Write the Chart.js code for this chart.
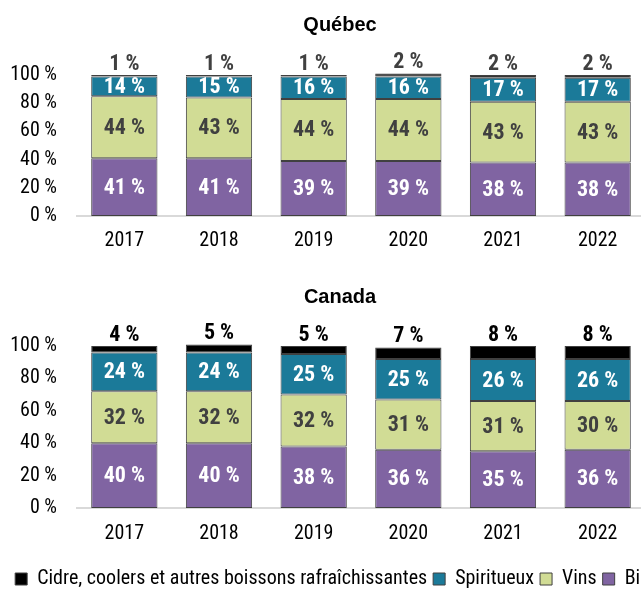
<!DOCTYPE html>
<html>
<head>
<meta charset="utf-8">
<script src="https://cdn.jsdelivr.net/npm/chart.js@4.4.1/dist/chart.umd.min.js"></script>
<style>
  html, body { margin: 0; padding: 0; background: #fff; overflow: hidden; }
  canvas { display: block; }
</style>
</head>
<body>
<canvas id="quebec" width="680" height="262"></canvas>
<canvas id="canada" width="680" height="340"></canvas>
<script>
// Parts de marché des ventes de boissons alcoolisées (%)
const years = ["2017", "2018", "2019", "2020", "2021", "2022"];
const seriesNames = ["Bière", "Vins", "Spiritueux", "Cidre, coolers et autres boissons rafraîchissantes"];
const yTicks = [0, 20, 40, 60, 80, 100];

const qcBiere = [41, 41, 39, 39, 38, 38];
const qcVins = [44, 43, 44, 44, 43, 43];
const qcSpiritueux = [14, 15, 16, 16, 17, 17];
const qcCidre = [1, 1, 1, 2, 2, 2];

const caBiere = [40, 40, 38, 36, 35, 36];
const caVins = [32, 32, 32, 31, 31, 30];
const caSpiritueux = [24, 24, 25, 25, 26, 26];
const caCidre = [4, 5, 5, 7, 8, 8];

const NARROW = "'Roboto Condensed', 'Liberation Sans Narrow', sans-serif";
const colors = ["#8064a2", "#d1dc95", "#1b7a99", "#000000"];
const labelColors = ["#ffffff", "#404040", "#ffffff", null];

// draws the "xx %" labels, inside the bars or above the top segment
const valueLabels = {
  id: "valueLabels",
  afterDatasetsDraw(chart) {
    const ctx = chart.ctx;
    chart.data.datasets.forEach((ds, i) => {
      const meta = chart.getDatasetMeta(i);
      meta.data.forEach((bar, j) => {
        const text = ds.data[j] + " %";
        ctx.save();
        ctx.font = "bold 22px " + NARROW;
        ctx.textAlign = "center";
        ctx.fillStyle = ds.labelColor;
        if (ds.labelOutside) {
          ctx.textBaseline = "bottom";
          ctx.fillText(text, bar.x, Math.min(bar.y, bar.base));
        } else {
          ctx.textBaseline = "middle";
          ctx.fillText(text, bar.x, (bar.y + bar.base) / 2 + 1);
        }
        ctx.restore();
      });
    });
  },
};

function makeChart(canvasId, title, values, topColor, showLegend, pad) {
  const datasets = values.map((data, i) => ({
    label: seriesNames[i],
    data,
    backgroundColor: colors[i],
    borderColor: "#404040",
    borderWidth: 1,
    borderSkipped: false,
    labelColor: labelColors[i] || topColor,
    labelOutside: i === values.length - 1,
  }));

  return new Chart(document.getElementById(canvasId), {
    type: "bar",
    data: { labels: years, datasets },
    plugins: [valueLabels],
    options: {
      responsive: false,
      animation: false,
      clip: false,
      barPercentage: 0.7,
      categoryPercentage: 1,
      layout: { padding: { left: 0, right: 0, top: 0, bottom: pad.bottom } },
      plugins: {
        title: {
          display: true,
          text: title,
          color: "#000",
          font: { family: "'Liberation Sans', Arial, sans-serif", size: 20, weight: "bold", lineHeight: 1.2 },
          padding: { top: pad.titleTop, bottom: pad.titleBottom },
        },
        legend: {
          display: showLegend,
          position: "bottom",
          reverse: true,
          labels: {
            color: "#000",
            font: { family: NARROW, size: 20 },
            boxWidth: 12,
            boxHeight: 12,
            padding: 6,
          },
        },
        tooltip: { enabled: false },
      },
      scales: {
        x: {
          stacked: true,
          grid: { display: false, drawTicks: false },
          border: { display: true, color: "#d9d9d9", width: 2 },
          afterFit: (s) => { s.height = pad.xHeight; },
          ticks: { color: "#000", padding: pad.xTicks, font: { family: NARROW, size: 20 } },
        },
        y: {
          stacked: true,
          min: 0,
          max: 100,
          grid: { display: false, drawTicks: false },
          border: { display: false },
          afterBuildTicks: (s) => { s.ticks = yTicks.map((v) => ({ value: v })); },
          afterFit: (s) => { s.width = 77; },
          ticks: {
            color: "#000",
            padding: 20,
            autoSkip: false,
            font: { family: NARROW, size: 20 },
            callback: (v) => v + " %",
          },
        },
        // empty right-hand axis, keeps the plot area narrower than the canvas
        yRight: {
          type: "linear",
          position: "right",
          display: true,
          grid: { display: false, drawTicks: false },
          border: { display: false },
          ticks: { display: false },
          afterFit: (s) => { s.width = 35; },
        },
      },
    },
  });
}

makeChart("quebec", "Québec", [qcBiere, qcVins, qcSpiritueux, qcCidre], "#404040", false,
  { titleTop: 13, titleBottom: 38, xTicks: 13, xHeight: 37, bottom: 9 });
makeChart("canada", "Canada", [caBiere, caVins, caSpiritueux, caCidre], "#000000", true,
  { titleTop: 23, titleBottom: 37, xTicks: 14, xHeight: 55, bottom: 3 });
</script>
</body>
</html>
